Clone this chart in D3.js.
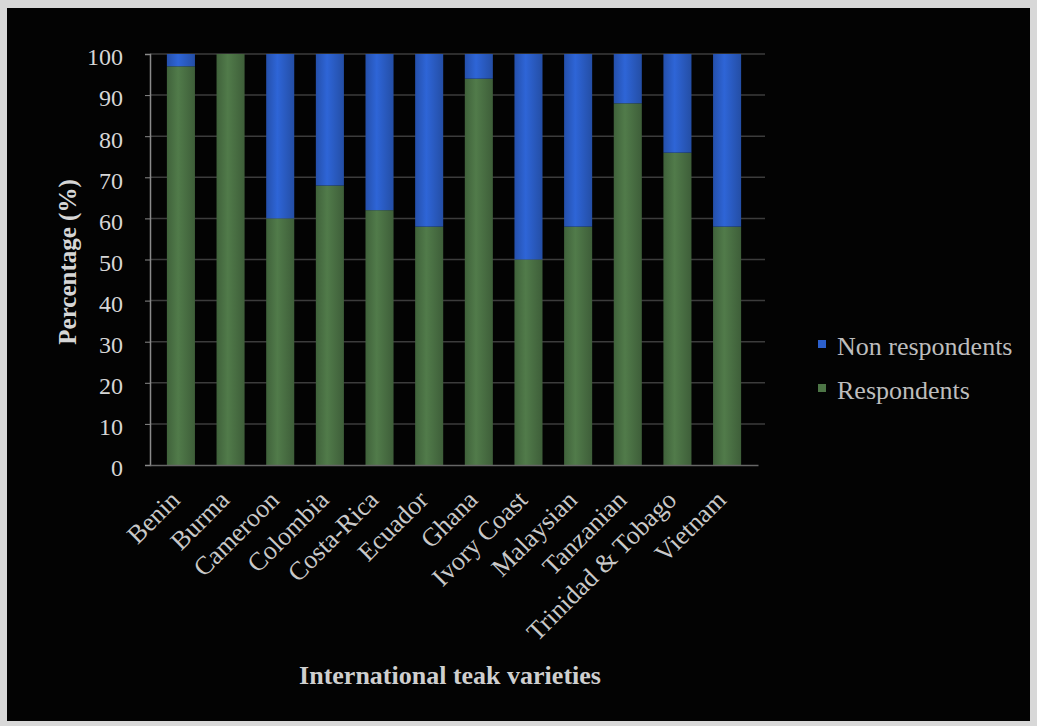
<!DOCTYPE html>
<html>
<head>
<meta charset="utf-8">
<script src="https://cdn.jsdelivr.net/npm/d3@7"></script>
<style>
  body { margin: 0; background: #d8d8d8; }
  svg { display: block; }
</style>
</head>
<body>
<div id="chart"></div>
<script>
// data
const countries = ["Benin", "Burma", "Cameroon", "Colombia", "Costa-Rica", "Ecuador",
  "Ghana", "Ivory Coast", "Malaysian", "Tanzanian", "Trinidad & Tobago", "Vietnam"];
const respondents = [97, 100, 60, 68, 62, 58, 94, 50, 58, 88, 76, 58];
const nonRespondents = [3, 0, 40, 32, 38, 42, 6, 50, 42, 12, 24, 42];
const yTicks = [0, 10, 20, 30, 40, 50, 60, 70, 80, 90, 100];
const seriesNames = ["Respondents", "Non respondents"];

const width = 1037, height = 726;
const margin = {top: 54, left: 150, right: 279, bottom: 261};
const gridEnd = 765;
const colors = {"Respondents": "#4d7546", "Non respondents": "#2c60cc"};
const font = "Liberation Serif, serif";

const svg = d3.select("#chart").append("svg")
  .attr("width", width)
  .attr("height", height);

// dark panel inside a light border
svg.append("rect")
  .attr("x", 7).attr("y", 8)
  .attr("width", 1023).attr("height", 713)
  .attr("fill", "#030303");

const x = d3.scaleBand()
  .domain(countries)
  .range([margin.left, width - margin.right])
  .paddingInner(0.435)
  .paddingOuter(0.34);

const y = d3.scaleLinear()
  .domain([0, 100])
  .range([height - margin.bottom, margin.top]);

// gridlines
svg.append("g")
  .selectAll("line")
  .data(yTicks.slice(1))
  .enter()
  .append("line")
  .attr("x1", margin.left)
  .attr("x2", gridEnd)
  .attr("y1", d => y(d))
  .attr("y2", d => y(d))
  .attr("stroke", "#3c3c3c")
  .attr("stroke-width", 1.5);

// bar shading
const defs = svg.append("defs");
seriesNames.forEach(function(name, i) {
  const c = d3.color(colors[name]);
  const g = defs.append("linearGradient").attr("id", "grad" + i);
  g.append("stop").attr("offset", "0%").attr("stop-color", c.darker(0.5));
  g.append("stop").attr("offset", "40%").attr("stop-color", c.brighter(0.15));
  g.append("stop").attr("offset", "100%").attr("stop-color", c.darker(0.6));
});

const table = countries.map((c, i) => ({
  country: c,
  "Respondents": respondents[i],
  "Non respondents": nonRespondents[i]
}));
const stacked = d3.stack().keys(seriesNames)(table);

svg.append("g")
  .selectAll("g")
  .data(stacked)
  .enter()
  .append("g")
  .attr("fill", (d, i) => "url(#grad" + i + ")")
  .selectAll("rect")
  .data(d => d)
  .enter()
  .append("rect")
  .attr("x", d => x(d.data.country))
  .attr("width", x.bandwidth())
  .attr("y", d => y(d[1]))
  .attr("height", d => y(d[0]) - y(d[1]));

// axes
const yAxis = svg.append("g")
  .attr("transform", `translate(${margin.left},0)`)
  .call(d3.axisLeft(y).tickValues(yTicks).tickSize(5).tickPadding(22));
yAxis.select(".domain").attr("stroke", "#8a8a8a").attr("stroke-width", 1.5);
yAxis.selectAll("line").attr("stroke", "#8a8a8a");
yAxis.selectAll("text")
  .attr("fill", "#d6d6d6")
  .attr("dy", "0.45em")
  .style("font-family", font)
  .style("font-size", "24px");

const xAxis = svg.append("g")
  .attr("transform", `translate(0,${height - margin.bottom})`)
  .call(d3.axisBottom(x).tickSize(0).tickSizeOuter(0));
xAxis.select(".domain").attr("stroke", "#666").attr("stroke-width", 1.5);
xAxis.selectAll("text")
  .attr("fill", "#c9c9c9")
  .attr("x", 0)
  .attr("y", 0)
  .attr("dy", "0.35em")
  .style("font-family", font)
  .style("font-size", "26px")
  .style("text-anchor", "end")
  .attr("transform", "translate(-6,30) rotate(-45)");

// axis titles
svg.append("text")
  .attr("transform", `translate(76,262) rotate(-90)`)
  .attr("text-anchor", "middle")
  .attr("fill", "#d6d6d6")
  .style("font-family", font)
  .style("font-weight", "bold")
  .style("font-size", "25px")
  .text("Percentage (%)");

svg.append("text")
  .attr("x", 450)
  .attr("y", 684)
  .attr("text-anchor", "middle")
  .attr("fill", "#cfcfcf")
  .style("font-family", font)
  .style("font-weight", "bold")
  .style("font-size", "26px")
  .text("International teak varieties");

// legend
const legendItems = ["Non respondents", "Respondents"];
const legend = svg.append("g")
  .selectAll("g")
  .data(legendItems)
  .enter()
  .append("g")
  .attr("transform", (d, i) => `translate(837,${346 + i * 44})`);
legend.append("rect")
  .attr("x", -19).attr("y", -6)
  .attr("width", 8).attr("height", 8)
  .attr("fill", d => colors[d]);
legend.append("text")
  .attr("x", 0)
  .attr("y", 0)
  .attr("dy", "0.35em")
  .attr("fill", "#bdbdbd")
  .style("font-family", font)
  .style("font-size", "26px")
  .text(d => d);
</script>
</body>
</html>
